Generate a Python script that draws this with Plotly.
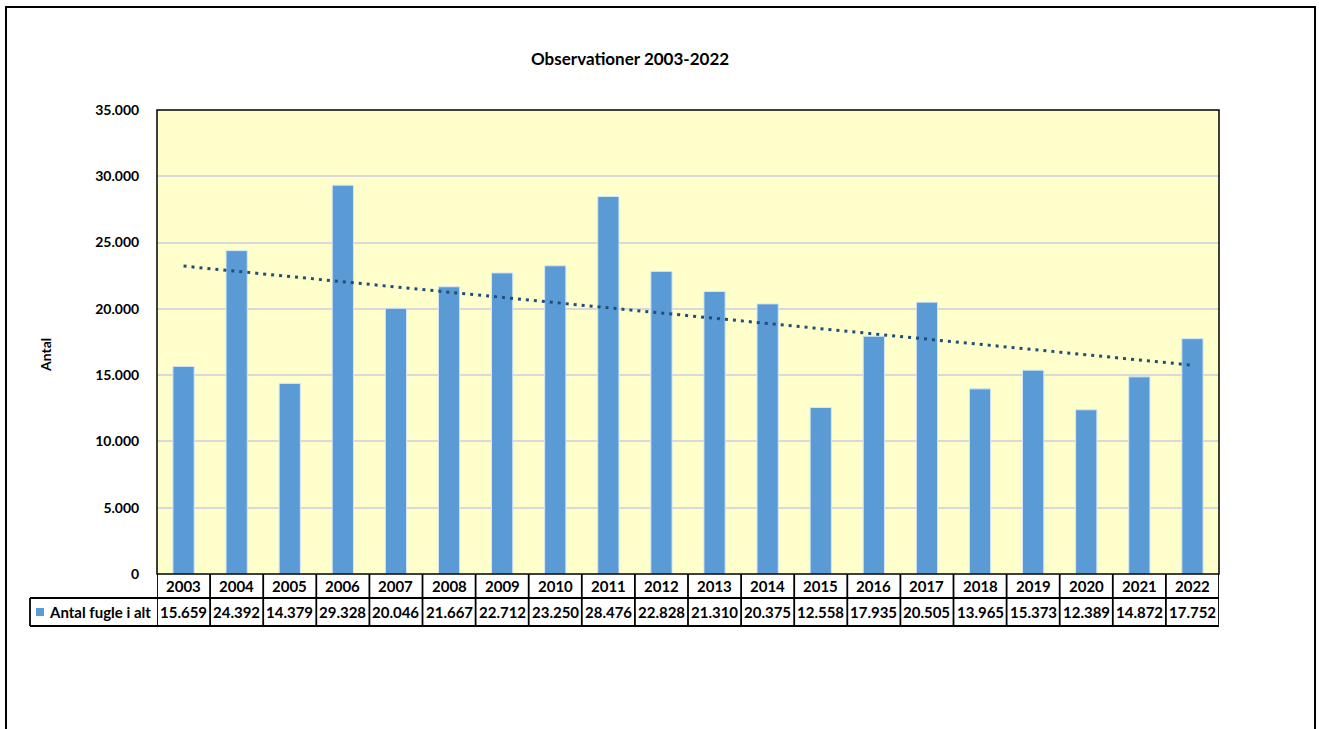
import numpy as np
import plotly.graph_objects as go

years = ["2003", "2004", "2005", "2006", "2007", "2008", "2009", "2010", "2011", "2012",
         "2013", "2014", "2015", "2016", "2017", "2018", "2019", "2020", "2021", "2022"]
values = [15659, 24392, 14379, 29328, 20046, 21667, 22712, 23250, 28476, 22828,
          21310, 20375, 12558, 17935, 20505, 13965, 15373, 12389, 14872, 17752]
series_name = "Antal fugle i alt"
title_text = "Observationer 2003-2022"
y_title = "Antal"

W, H = 1319, 729
L, R, T, B = 157, 1219, 110, 574
pw, ph = R - L, B - T

def px(x):
    return (x - L) / pw

def py(y):
    return (B - y) / ph

FONT = "Lato"
BAR = "#5B9BD5"
n = len(years)

# Linear trend line (as Excel's linear trendline)
idx = np.arange(n)
slope, intercept = np.polyfit(idx, values, 1)
trend = slope * idx + intercept

fig = go.Figure()
fig.add_trace(go.Bar(
    x=years, y=values, name=series_name, marker=dict(color=BAR, line=dict(color="#D6E6F5", width=1)),
    showlegend=False, hoverinfo="x+y"))
fig.add_trace(go.Scatter(
    x=years, y=trend, mode="lines", line=dict(color="#1F4E79", width=3, dash="3px,5px"),
    showlegend=False, hoverinfo="skip"))

LW = 1.8
shapes = []
# outer frame
shapes.append(dict(type="rect", xref="paper", yref="paper", x0=px(6), x1=px(1315), y0=py(760), y1=py(7),
                   line=dict(color="black", width=2), layer="below"))
# plot area border
shapes.append(dict(type="rect", xref="paper", yref="paper", x0=0, x1=1, y0=0, y1=1,
                   line=dict(color="black", width=1.5)))
# table horizontal lines
for yy, x0 in [(598, 30), (626, 30)]:
    shapes.append(dict(type="line", xref="paper", yref="paper", x0=px(x0), x1=1, y0=py(yy), y1=py(yy),
                       line=dict(color="black", width=LW)))
# table vertical lines
shapes.append(dict(type="line", xref="paper", yref="paper", x0=px(30), x1=px(30), y0=py(598), y1=py(626),
                   line=dict(color="black", width=LW)))
for i in range(n + 1):
    shapes.append(dict(type="line", xref="x", yref="paper", x0=i - 0.5, x1=i - 0.5, y0=0, y1=py(626),
                       line=dict(color="black", width=LW)))
# legend key
shapes.append(dict(type="rect", xref="paper", yref="paper", x0=px(36), x1=px(44), y0=py(616), y1=py(608),
                   fillcolor=BAR, line=dict(width=0)))

def ann(text, x, y, size, xref="paper", xanchor="center", angle=0):
    return dict(text="<b>" + text + "</b>", xref=xref, yref="paper", x=x, y=y, xanchor=xanchor,
                yanchor="middle", textangle=angle, showarrow=False,
                font=dict(family=FONT, size=size, color="black"))

annotations = [
    ann(title_text, px(630), py(58), 17),
    ann(y_title, px(45), py(355), 14, angle=-90),
    ann(series_name, px(47), py(612), 15, xanchor="left"),
]
for i, (yr, v) in enumerate(zip(years, values)):
    annotations.append(ann(yr, i, py(586), 15, xref="x"))
    annotations.append(ann(f"{v:,}".replace(",", "."), i, py(612), 15, xref="x"))

fig.update_layout(
    width=W, height=H,
    margin=dict(l=L, r=W - R, t=T, b=H - B, pad=0),
    paper_bgcolor="white", plot_bgcolor="#FFFFCC",
    separators=",.",
    bargap=0.6,
    font=dict(family=FONT, color="black"),
    shapes=shapes, annotations=annotations,
    xaxis=dict(type="category", showticklabels=False, showgrid=False, zeroline=False, showline=False,
               range=[-0.5, n - 0.5]),
    yaxis=dict(range=[0, 35000], dtick=5000, tickformat=",d", showgrid=True, gridcolor="#D9D9D9",
               gridwidth=1.5, zeroline=False, showline=False, ticks="outside", ticklen=14,
               tickcolor="rgba(0,0,0,0)", tickfont=dict(family=FONT, size=14, color="black")),
)
fig.update_yaxes(tickprefix="<b>", ticksuffix="</b>")

fig.write_html("out.html", config={"displayModeBar": False},
               post_script="document.body.style.margin='0';document.body.style.overflow='hidden';")
